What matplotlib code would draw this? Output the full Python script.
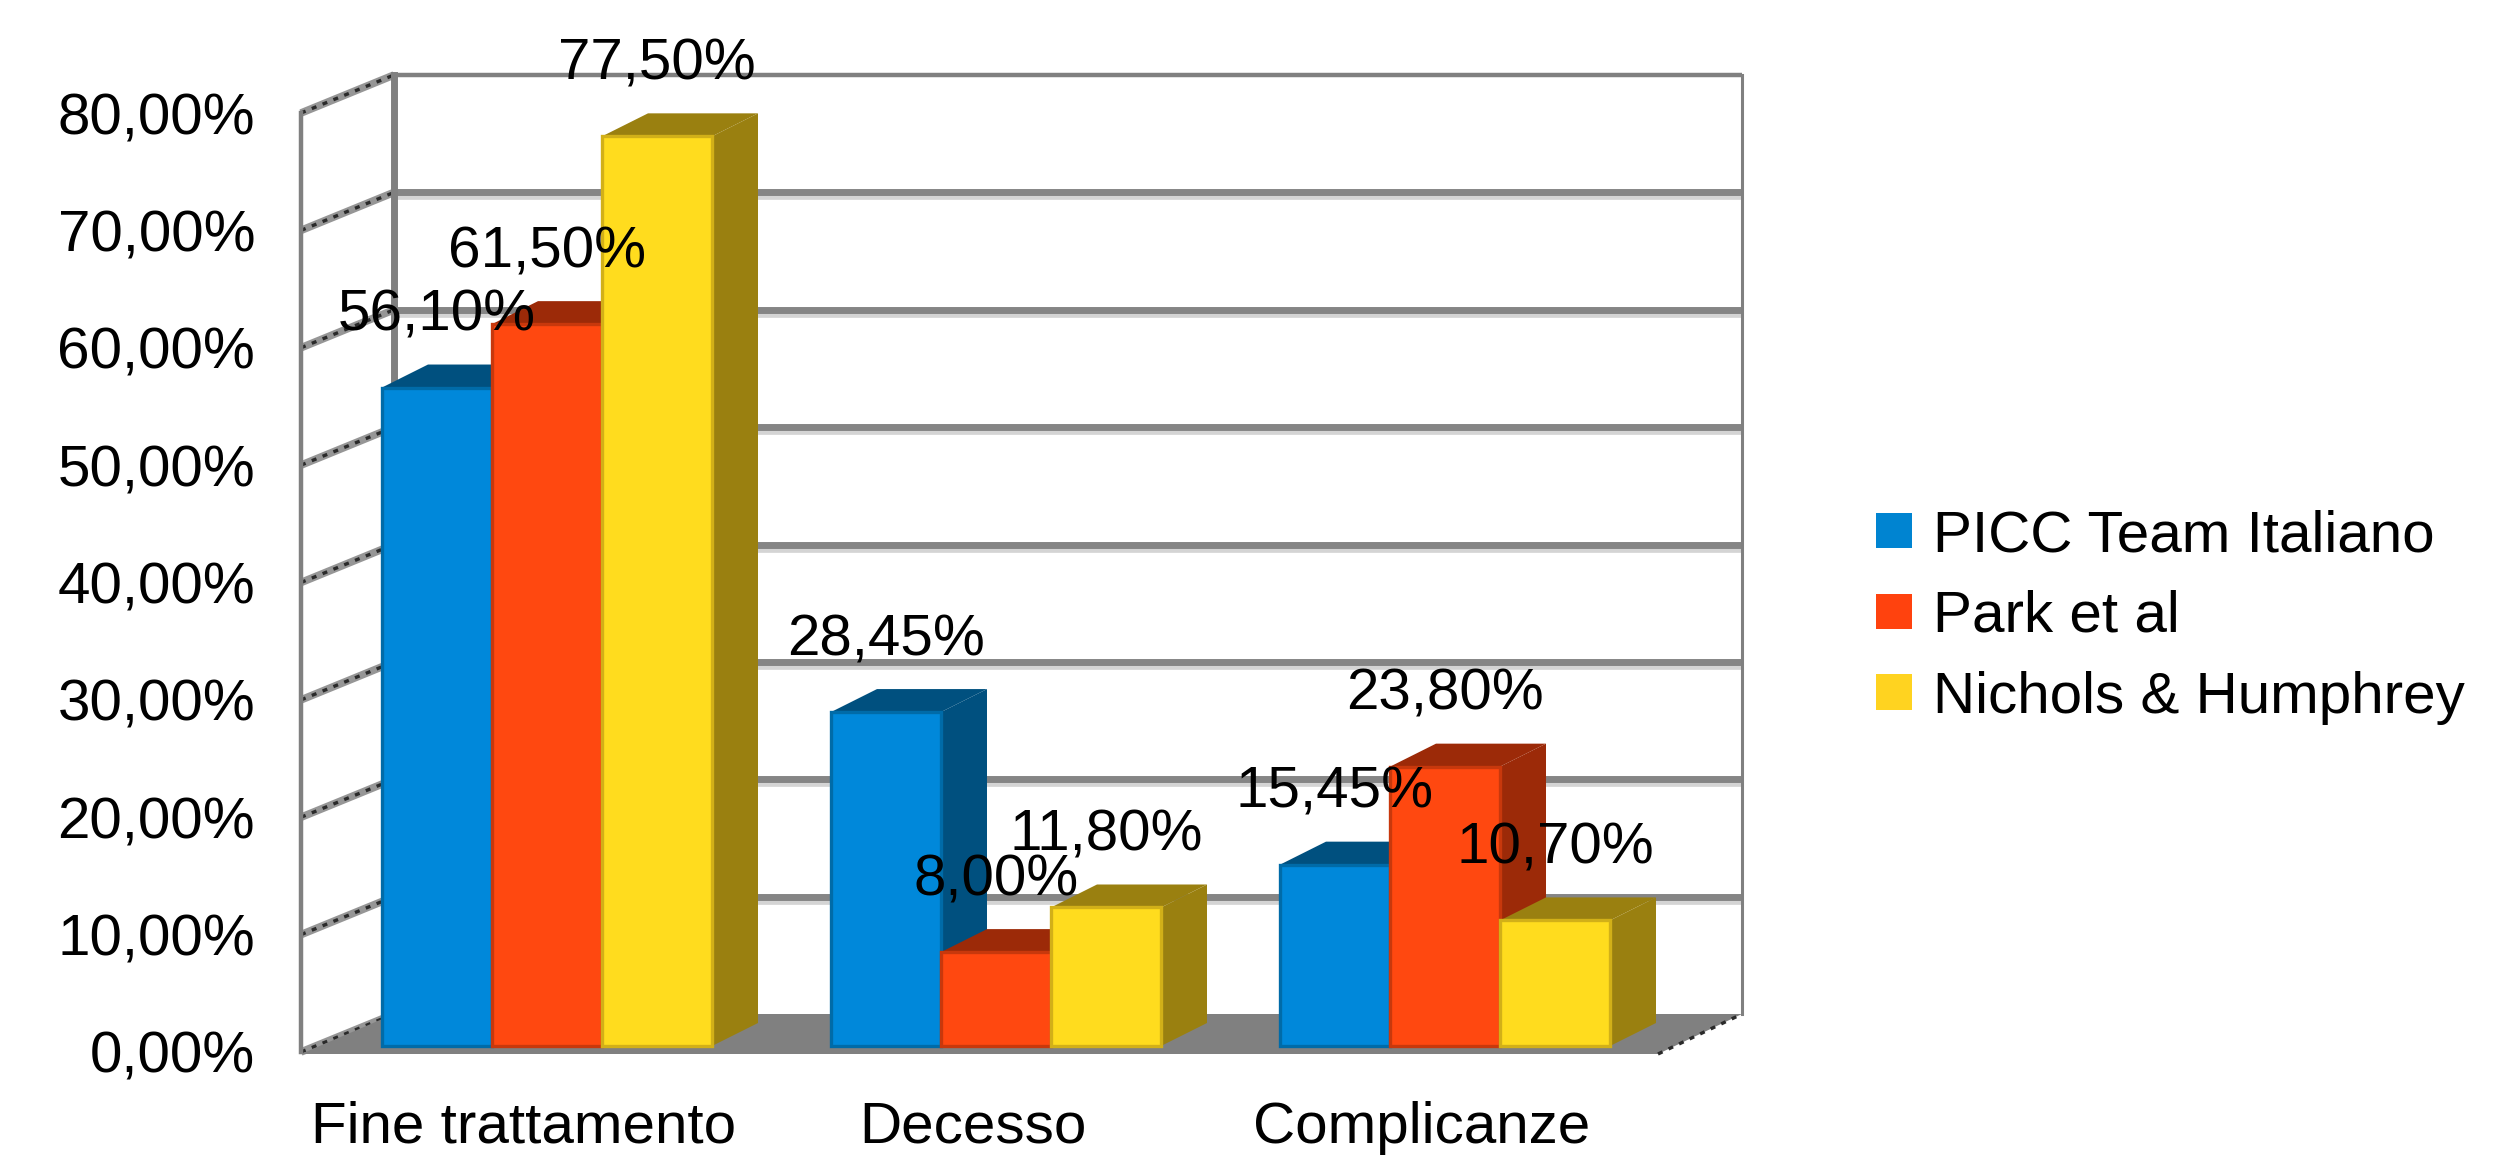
'''
plot
-----------------------------------------------------------
pseudo 3D bars: outcome percentages for three PICC studies
'''
# Load packages -------------------------------------------
import matplotlib
matplotlib.use('Agg')
import numpy as np
import matplotlib.pyplot as plt
from matplotlib.patches import Patch, Polygon

# Data ----------------------------------------------------
categories = ['Fine trattamento', 'Decesso', 'Complicanze']
series_names = ['PICC Team Italiano', 'Park et al', 'Nichols & Humphrey']
picc_team = [56.10, 28.45, 15.45]
park = [61.50, 8.00, 23.80]
nichols = [77.50, 11.80, 10.70]
y_ticks = [0, 10, 20, 30, 40, 50, 60, 70, 80]

# Style ---------------------------------------------------
plt.rcParams['font.family'] = ['Liberation Sans', 'DejaVu Sans']
front_colors = ['#0088da', '#ff4810', '#ffdc1e']
edge_colors = ['#006ba8', '#c8380c', '#d2b018']
side_colors = ['#00507f', '#9c2a08', '#9a8010']
legend_colors = ['#0084d1', '#ff420e', '#ffd320']
grey = '#808080'
font_size = 42

# Pixel sizes of the drawing, turned into axis units:
fig_w, fig_h = 2516, 1166
ax_left, ax_right, ax_top, ax_bottom = 301, 1658, 113, 1052
group_pitch = 449
x_unit = 1 / group_pitch
y_unit = 80 / (ax_bottom - ax_top)

# Figure --------------------------------------------------
fig = plt.figure(figsize=(fig_w / 100, fig_h / 100), dpi=100)
ax = fig.add_axes([
    ax_left / fig_w,
    1 - ax_bottom / fig_h,
    (ax_right - ax_left) / fig_w,
    (ax_bottom - ax_top) / fig_h
])
x_min = -223 * x_unit
x_max = x_min + (ax_right - ax_left) * x_unit
ax.set_xlim(x_min, x_max)
ax.set_ylim(0, 80)
ax.patch.set_alpha(0)

# Walls and grid ------------------------------------------
wall_dx = 93 * x_unit
wall_dy = 38 * y_unit
back_left = x_min + wall_dx
back_right = x_max + 84 * x_unit

for v in y_ticks[1:-1]:
    back_y = v + wall_dy
    ax.plot([back_left, back_right], [back_y - 3 * y_unit] * 2, color='#d4d4d4',
            lw=7, clip_on=False, zorder=1, solid_capstyle='butt')
    ax.plot([back_left, back_right], [back_y] * 2, color='#858585',
            lw=5, clip_on=False, zorder=1.1, solid_capstyle='butt')
ax.plot([back_left, back_right], [80 + wall_dy] * 2, color=grey, lw=3.2,
        clip_on=False, zorder=1.1, solid_capstyle='butt')

# Slanted lines on the left wall:
for v in y_ticks:
    ax.plot([x_min, back_left], [v, v + wall_dy], color='#969696', lw=5.5,
            clip_on=False, zorder=1.2, solid_capstyle='butt')
    ax.plot([x_min, back_left], [v, v + wall_dy], color='#2a2a2a', lw=2.4,
            ls=(0, (1.5, 2.0)), clip_on=False, zorder=1.3)

# Wall uprights:
ax.plot([back_left] * 2, [wall_dy, 80 + wall_dy], color=grey, lw=5,
        clip_on=False, zorder=1.4)
ax.plot([back_right] * 2, [wall_dy, 80 + wall_dy], color=grey, lw=2.2,
        clip_on=False, zorder=1.4)

# Floor:
ax.add_patch(Polygon(
    [(x_min, -2 * y_unit), (back_left, wall_dy), (back_right, wall_dy),
     (x_max, -2 * y_unit)],
    closed=True, facecolor=grey, edgecolor='none', clip_on=False, zorder=2
))
ax.plot([x_max, back_right], [-2 * y_unit, wall_dy], color='#2a2a2a', lw=2.4,
        ls=(0, (1.5, 2.0)), clip_on=False, zorder=2.1)

# Bars ----------------------------------------------------
bar_w = 110 * x_unit
bar_dx = 46 * x_unit
bar_dy = 23 * y_unit
bar_base = 6 * y_unit

values = np.array([picc_team, park, nichols])
x_pos = np.arange(len(categories))

for i_series in range(len(series_names)):
    for i_cat in range(len(categories)):
        v = values[i_series, i_cat]
        left = x_pos[i_cat] - 142 * x_unit + i_series * bar_w
        right = left + bar_w
        top = v + bar_base
        z = 3 + i_series + i_cat * 4

        # Side face:
        ax.add_patch(Polygon(
            [(right, bar_base), (right + bar_dx, bar_base + bar_dy),
             (right + bar_dx, top + bar_dy), (right, top)],
            closed=True, facecolor=side_colors[i_series], edgecolor='none',
            clip_on=False, zorder=z
        ))
        # Top face:
        ax.add_patch(Polygon(
            [(left, top), (left + bar_dx, top + bar_dy),
             (right + bar_dx, top + bar_dy), (right, top)],
            closed=True, facecolor=side_colors[i_series], edgecolor='none',
            clip_on=False, zorder=z
        ))
        # Front face:
        ax.bar(left, v, width=bar_w, bottom=bar_base, align='edge',
               color=front_colors[i_series], edgecolor=edge_colors[i_series],
               linewidth=2.4, clip_on=False, zorder=z + 0.1)
        # Value label:
        ax.text(left + bar_w / 2, top + 57 * y_unit,
                f'{v:.2f}%'.replace('.', ','), ha='center', va='baseline',
                fontsize=font_size, color='black', clip_on=False, zorder=30)

# Axes ----------------------------------------------------
ax.set_yticks(y_ticks)
ax.set_yticklabels([f'{v:.2f}%'.replace('.', ',') for v in y_ticks])
ax.set_xticks(x_pos)
ax.set_xticklabels(categories)
ax.tick_params('y', length=0, pad=33, labelsize=font_size)
ax.tick_params('x', length=0, pad=35, labelsize=font_size)

for side in ['top', 'right', 'bottom']:
    ax.spines[side].set_visible(False)
ax.spines['left'].set_color(grey)
ax.spines['left'].set_linewidth(3.2)

# Legend --------------------------------------------------
handles = [Patch(facecolor=c, edgecolor='none') for c in legend_colors]
ax.legend(
    handles, series_names,
    loc='center left',
    bbox_to_anchor=(1876 / fig_w, 1 - 617 / fig_h),
    bbox_transform=fig.transFigure,
    frameon=False,
    fontsize=font_size,
    handlelength=0.62,
    handleheight=0.56,
    handletextpad=0.36,
    labelspacing=0.46,
    borderpad=0,
    borderaxespad=0
)

# Save plot:
plt.savefig('out.png', dpi=100)
